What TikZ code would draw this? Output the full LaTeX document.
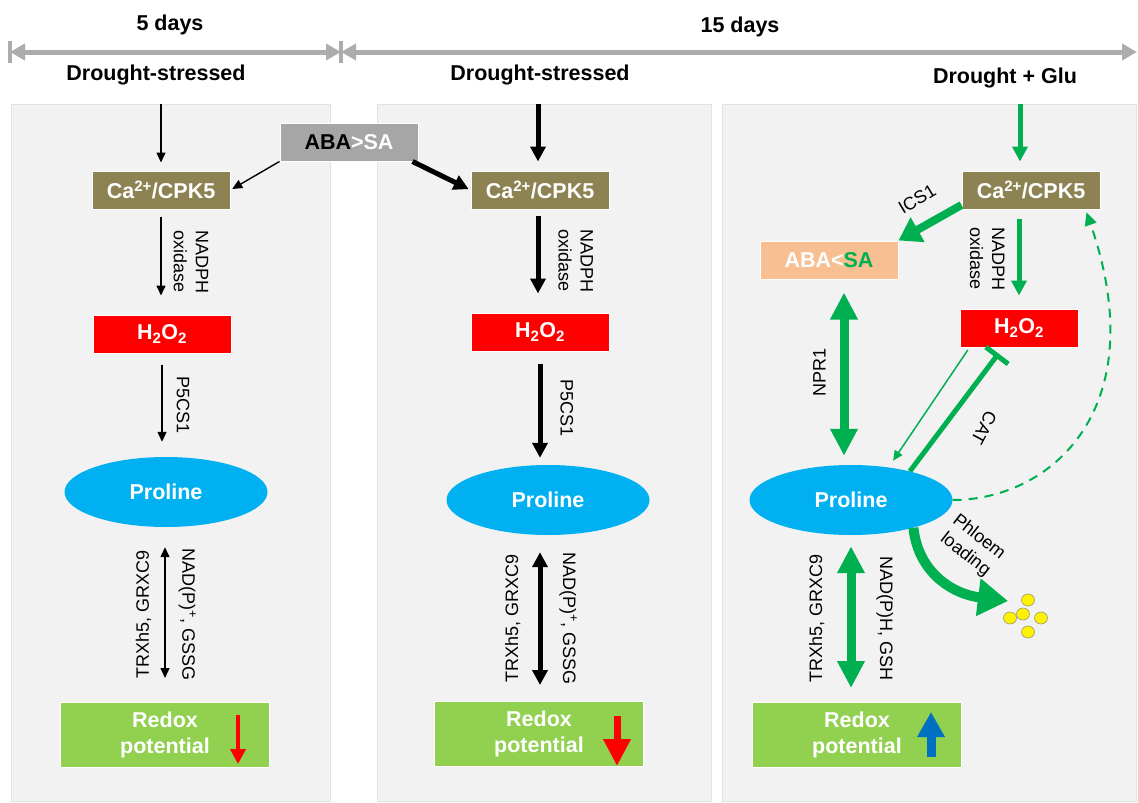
\documentclass[tikz,border=0pt]{standalone}
\usepackage{fontspec}
\setmainfont{Liberation Sans}
\usepackage{tikz}
\usetikzlibrary{
  shapes.geometric,
  arrows.meta,
  calc
}
\definecolor{panelgray}{RGB}{242,242,242}
\definecolor{paneledge}{RGB}{226,226,226}
\definecolor{caolive}{RGB}{141,131,82}
\definecolor{h2red}{RGB}{255,0,0}
\definecolor{problue}{RGB}{0,176,240}
\definecolor{redoxgreen}{RGB}{146,208,80}
\definecolor{abagray}{RGB}{166,166,166}
\definecolor{abapeach}{RGB}{248,192,146}
\definecolor{glugreen}{RGB}{0,176,80}
\definecolor{upblue}{RGB}{0,112,192}
\definecolor{linegray}{RGB}{172,172,172}
\definecolor{dotedge}{RGB}{150,150,120}

\newcommand{\bigfont}{\fontsize{21.5}{26}\selectfont\bfseries}
\newcommand{\lblfont}{\fontsize{18}{22}\selectfont}

\begin{document}
\begin{tikzpicture}[x=1pt, y=-1pt,
  panel/.style={draw=paneledge, fill=panelgray, line width=1pt},
  head/.style={font=\bigfont, inner sep=0pt},
  box/.style={
    rectangle, draw=white, line width=1pt,
    minimum width=138pt, minimum height=38pt, inner sep=0pt,
    font=\bigfont, text=white
  },
  cabox/.style={box, fill=caolive},
  hbox/.style={box, fill=h2red},
  prol/.style={
    ellipse, fill=problue, minimum width=203pt, minimum height=70pt,
    inner sep=0pt, font=\bigfont, text=white
  },
  redox/.style={
    rectangle, draw=white, line width=1pt, fill=redoxgreen,
    minimum width=209pt, minimum height=65pt, inner sep=0pt,
    font=\bigfont, text=white, align=center
  },
  lbl/.style={font=\lblfont, text=black},
  timeline/.style={{Triangle[length=15pt,width=16pt]}-{Triangle[length=15pt,width=16pt]},
    line width=5pt, linegray},
  tickbar/.style={line width=4pt, linegray},
  thinarr/.style={-{Triangle[length=10pt,width=9pt]}, line width=1.4pt},
  thindbl/.style={{Triangle[length=10pt,width=9pt]}-{Triangle[length=10pt,width=9pt]}, line width=1.4pt},
  thickarr/.style={-{Triangle[length=15pt,width=15pt]}, line width=5pt},
  thickdbl/.style={{Triangle[length=15pt,width=15pt]}-{Triangle[length=15pt,width=15pt]}, line width=5pt},
  garr/.style={-{Triangle[length=15pt,width=15pt]}, line width=5pt, glugreen},
  gbig/.style={-{Triangle[length=22pt,width=27pt]}, line width=8pt, glugreen},
  gdbl/.style={{Triangle[length=27pt,width=26pt]}-{Triangle[length=27pt,width=26pt]}, line width=9pt, glugreen},
  gthin/.style={-{Triangle[length=10pt,width=9pt]}, line width=1.5pt, glugreen},
  ginhib/.style={-{Bar[width=28pt]}, line width=5pt, glugreen},
  gdash/.style={-{Triangle[length=13pt,width=12pt]}, dash pattern=on 9pt off 7pt, line width=2pt, glugreen},
  gphloem/.style={-{Triangle[length=30pt,width=36pt]}, line width=10pt, glugreen},
  downsmall/.style={-{Triangle[length=15pt,width=15pt]}, line width=4pt, h2red},
  downbig/.style={-{Triangle[length=27pt,width=26pt]}, line width=7pt, h2red},
  upbig/.style={-{Triangle[length=25pt,width=26pt]}, line width=9pt, upblue}
]
  \useasboundingbox (0,0) rectangle (1138,803);

  % time line
  \coordinate (t0) at (10,52);
  \coordinate (t1) at (341,52);
  \coordinate (t2) at (1137,52);
  \draw[timeline] (t0) -- (t1);
  \draw[timeline] (t1) -- (t2);
  \draw[tickbar] ($(t0)+(0,-11)$) -- ($(t0)+(0,11)$);
  \draw[tickbar] ($(t1)+(0,-11)$) -- ($(t1)+(0,11)$);

  \node[head] (d5)  at (170,25) {5 days};
  \node[head] (d15) at (740,27) {15 days};
  \node[head] (ds1) at (156,75) {Drought-stressed};
  \node[head] (ds2) at (540,75) {Drought-stressed};
  \node[head] (dg)  at (1005,78) {Drought + Glu};

  % panels
  \draw[panel] (11,104) rectangle (330,801);
  \draw[panel] (377,104) rectangle (711,801);
  \draw[panel] (722,104) rectangle (1136,801);

  % 5 days, drought
  \coordinate (top1) at (161,104);
  \node[cabox] (ca1) at (161,190) {Ca\textsuperscript{2+}/CPK5};
  \node[hbox]  (h1)  at (162,334) {H\textsubscript{2}O\textsubscript{2}};
  \node[prol]  (pro1) at (166,492) {Proline};
  \node[redox] (rd1) at (165,735) {Redox\\potential};

  \draw[thinarr, shorten >=8pt] (top1) -- (ca1);
  \draw[thinarr, shorten <=7pt, shorten >=19pt] (ca1) --
    node[lbl, rotate=-90, anchor=south, align=left, inner sep=12pt] (nad1) {NADPH\\oxidase} (ca1 |- h1.north);
  \draw[thinarr, shorten <=11pt, shorten >=15pt] (h1.south) --
    node[lbl, rotate=-90, anchor=south, inner sep=14pt] (p5c1) {P5CS1} (h1.south |- pro1.north);
  \draw[thindbl, shorten <=20pt, shorten >=24pt] (pro1.south -| rd1.north) --
    node[lbl, rotate=90, anchor=south, inner sep=13pt] (trx1) {TRXh5, GRXC9}
    node[lbl, rotate=-90, anchor=south, inner sep=13pt] (nadp1) {NAD(P)\textsuperscript{+}, GSSG} (rd1.north);
  \coordinate (rd1a) at (238,715);
  \coordinate (rd1b) at (238,764);
  \draw[downsmall] (rd1a) -- (rd1b);

  % shared hormone box
  \node[box, fill=abagray] (aba) at (349,142) {\textcolor{black}{ABA}>SA};

  % 15 days, drought
  \coordinate (top2) at (538,104);
  \node[cabox] (ca2) at (540,190) {Ca\textsuperscript{2+}/CPK5};
  \node[hbox]  (h2)  at (540,332) {H\textsubscript{2}O\textsubscript{2}};
  \node[prol]  (pro2) at (548,500) {Proline};
  \node[redox] (rd2) at (539,734) {Redox\\potential};

  \draw[thinarr, shorten >=2pt] (aba.south west) -- (ca1.east);
  \draw[thickarr, shorten >=2pt] ([xshift=-6pt]aba.south east) -- (ca2.west);

  \draw[thickarr, shorten >=9pt] (top2) -- (top2 |- ca2.north);
  \draw[thickarr, shorten <=6pt, shorten >=19pt] (ca2.south -| top2) --
    node[lbl, rotate=-90, anchor=south, align=left, inner sep=18pt] (nad2) {NADPH\\oxidase} (h2.north -| top2);
  \draw[thickarr, shorten <=12pt, shorten >=7pt] (h2.south) --
    node[lbl, rotate=-90, anchor=south, inner sep=18pt] (p5c2) {P5CS1} (h2.south |- pro2.north);
  \draw[thickdbl, shorten <=17pt, shorten >=16pt] (pro2.south -| h2.south) --
    node[lbl, rotate=90, anchor=south, inner sep=17pt] (trx2) {TRXh5, GRXC9}
    node[lbl, rotate=-90, anchor=south, inner sep=17pt] (nadp2) {NAD(P)\textsuperscript{+}, GSSG} (rd2.north -| h2.south);
  \coordinate (rd2a) at (617,716);
  \coordinate (rd2b) at (617,766);
  \draw[downbig] (rd2a) -- (rd2b);

  % 15 days, drought + Glu
  \coordinate (top3) at (1020,104);
  \node[cabox] (ca3) at (1031,190) {Ca\textsuperscript{2+}/CPK5};
  \node[box, fill=abapeach] (aba3) at (829,260) {ABA<\textcolor{glugreen}{SA}};
  \node[hbox, minimum width=118pt] (h3) at (1019,328) {H\textsubscript{2}O\textsubscript{2}};
  \node[prol]  (pro3) at (851,500) {Proline};
  \node[redox] (rd3) at (857,735) {Redox\\potential};

  \draw[garr, shorten >=9pt] (top3) -- (top3 |- ca3.north);
  \draw[garr, shorten <=9pt, shorten >=13pt] (ca3.south -| h3.north) --
    node[lbl, rotate=-90, anchor=north, align=left, inner sep=12pt] (nad3) {NADPH\\oxidase} (h3.north);
  \draw[gbig] ([yshift=-15pt]ca3.west) -- (aba3.north east);
  \node[lbl, rotate=31] (ics) at (917,199) {ICS1};
  \draw[gdbl, shorten <=13pt, shorten >=9pt] ([xshift=15pt]aba3.south) --
    node[lbl, rotate=90, anchor=south, inner sep=14pt] (npr) {NPR1} ([xshift=15pt]aba3.south |- pro3.north);
  \draw[gthin, shorten <=3pt, shorten >=8pt] ([xshift=10pt]h3.south west) -- (pro3.41);
  \draw[ginhib] (pro3.26) -- ([xshift=39pt,yshift=-6pt]h3.south west);
  \node[lbl, rotate=-118] (cat) at (984,428) {CAT};
  \draw[gdash, shorten >=3pt] (pro3.east) .. controls (1050,500) and (1155,410) .. ([xshift=-15pt]ca3.south east);
  \draw[gdbl, shorten <=11pt, shorten >=14pt] (pro3.south) --
    node[lbl, rotate=90, anchor=south, inner sep=22pt] (trx3) {TRXh5, GRXC9}
    node[lbl, rotate=-90, anchor=south, inner sep=21pt] (nadp3) {NAD(P)H, GSH} (pro3.south |- rd3.north);

  % phloem loading
  \coordinate (phl) at (1008,601);
  \draw[gphloem] (pro3.-24) .. controls (918,572) and (952,594) .. (phl);
  \node[lbl, rotate=-38, align=center] (phll) at (972,546) {Phloem\\loading};
  \foreach \px/\py in {1023/614, 1028/600, 1010/618, 1041/618, 1028/632}
    \draw[fill=yellow, draw=dotedge, line width=0.6pt] (\px,\py) ellipse (6.5 and 6);

  \coordinate (rd3a) at (931,757);
  \coordinate (rd3b) at (931,712);
  \draw[upbig] (rd3a) -- (rd3b);
\end{tikzpicture}
\end{document}
